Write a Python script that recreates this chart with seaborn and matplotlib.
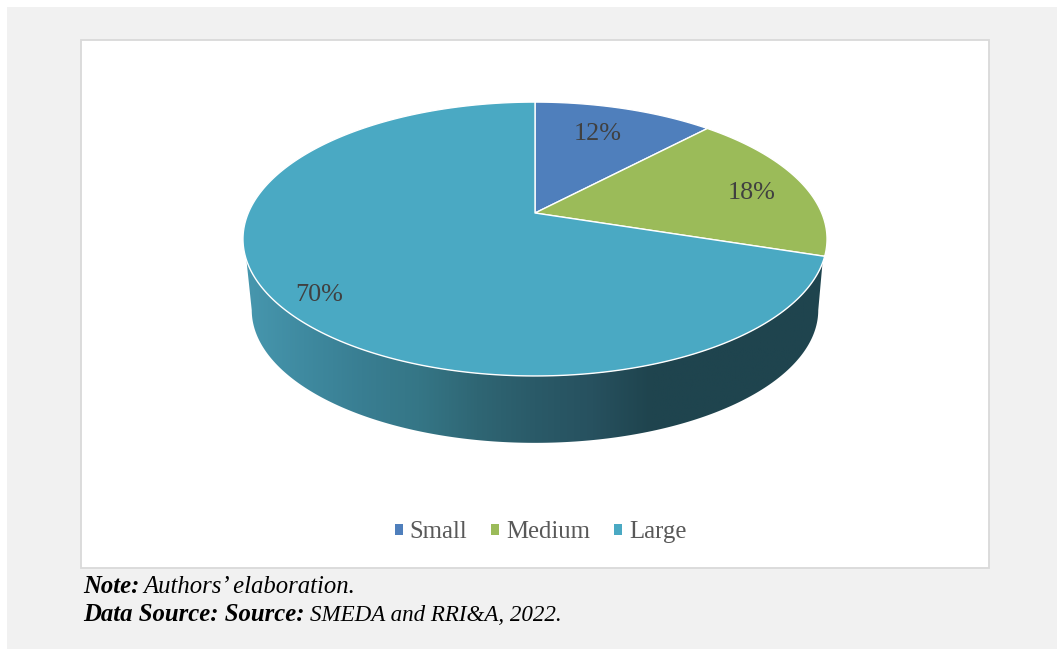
import numpy as np
import seaborn as sns
import matplotlib
matplotlib.use("Agg")
import matplotlib.pyplot as plt
from matplotlib.patches import Patch, Rectangle, Polygon

# Enterprise size shares (percent)
categories = ["Small", "Medium", "Large"]
shares = [12, 18, 70]
slice_colors = ["#4f7fbc", "#9bbb59", "#4aa9c3"]
wall_stops = ["#4797ae", "#3f8aa0", "#397e92", "#357686", "#2f6674", "#2a5a68",
              "#27515f", "#1f444e", "#1f444e", "#1f444e", "#1f444e"]

sns.set_theme(style="white")
plt.rcParams["font.family"] = ["Liberation Serif", "DejaVu Serif"]

W, H = 1057, 649
fig = plt.figure(figsize=(W / 100, H / 100), dpi=100, facecolor="white")
ax = fig.add_axes([0, 0, 1, 1])
ax.set_axis_off()

# Page band and chart frame
ax.add_patch(Rectangle((7, 7), W, H, facecolor="#f1f1f1", edgecolor="none", zorder=0))
ax.add_patch(Rectangle((81, 40), 908, 528, facecolor="white", edgecolor="#d9d9d9",
                       linewidth=1.3, zorder=1))

# Perspective view of the unit disc (angle runs clockwise from twelve o'clock)
CX, CY, A, B, K = 535.0, 213.0, 286.7, 132.0, 0.19


def project(theta_deg, r=1.0):
    t = np.radians(theta_deg)
    X, Y = r * np.sin(t), r * np.cos(t)
    d = 1 + K * Y
    return CX + A * X / d, CY - B * Y / d


def lower_rim(theta_deg):
    # Base of the disc: slightly smaller because it is further from the viewer
    x, y = project(theta_deg)
    return CX + (x - CX) * 0.97, 239 + (y - 239) * 0.97 + 71


# Side wall with a left-to-right shading
top_t = np.linspace(110.7, 250.5, 200)
base_t = np.linspace(259, 101, 200)
wall_xy = np.column_stack([np.r_[project(top_t)[0], lower_rim(base_t)[0]],
                           np.r_[project(top_t)[1], lower_rim(base_t)[1]]])
wall = Polygon(wall_xy, closed=True, facecolor="none", edgecolor="none", zorder=2)
ax.add_patch(wall)
wall_cmap = sns.blend_palette(wall_stops, as_cmap=True)
shade = ax.imshow(np.linspace(0, 1, 256)[None, :], cmap=wall_cmap, aspect="auto",
                  extent=(245, 825, 445, 255), zorder=2)
shade.set_clip_path(wall)

# Top face slices, built from the shares
edges = np.r_[0, np.cumsum(shares)] / np.sum(shares) * 360
for start, stop, color in zip(edges[:-1], edges[1:], slice_colors):
    t = np.linspace(start, stop, 300)
    x, y = project(t)
    ax.fill(np.r_[CX, x], np.r_[CY, y], facecolor=color, edgecolor="white",
            linewidth=1.0, joinstyle="round", zorder=3)

# Value labels: (angle, radius) on the disc
label_spots = [(19.7, 0.738), (77.3, 0.80), (231.0, 0.867)]
for value, (angle, radius) in zip(shares, label_spots):
    lx, ly = project(angle, radius)
    ax.text(lx, ly + 2, f"{value}%", ha="center", va="center", fontsize=18.8,
            color="#404040", zorder=4)

ax.set_xlim(0, W)
ax.set_ylim(H, 0)

handles = [Patch(facecolor=c, edgecolor="none", label=n)
           for c, n in zip(slice_colors, categories)]
ax.legend(handles=handles, ncol=3, loc="center", bbox_to_anchor=(540.5, 532),
          bbox_transform=ax.transData, frameon=False, fontsize=17.8,
          labelcolor="#595959", handlelength=0.32, handleheight=0.32,
          handletextpad=0.28, columnspacing=0.97, borderpad=0, borderaxespad=0)

# Footer notes
note_style = dict(style="italic", color="black", va="baseline", zorder=4)
ax.text(83, 593, "Note:", fontweight="bold", fontsize=17.8, **note_style)
ax.text(143.5, 593, "Authors\u2019 elaboration.", fontsize=17.8, **note_style)
ax.text(83, 621, "Data Source: Source:", fontweight="bold", fontsize=17.8, **note_style)
ax.text(310, 621, "SMEDA and RRI&A, 2022.", fontsize=16.6, **note_style)

fig.savefig("out.png", dpi=100, facecolor=fig.get_facecolor())
